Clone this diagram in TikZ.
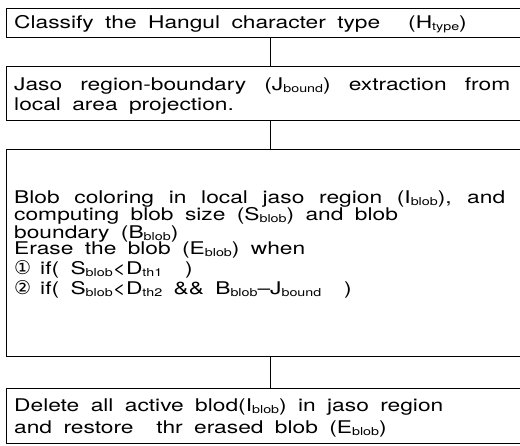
\documentclass[tikz,border=0pt]{standalone}
\usepackage{fontspec}
\setmainfont{TeX Gyre Heros}[FakeStretch=1.3, WordSpace=1.8]
\newfontfamily\circfont{DejaVu Sans}
\newcommand{\sbs}[1]{\raisebox{-0.13em}{\fontsize{11}{11}\selectfont #1}}
\begin{document}
\begin{tikzpicture}[x=1pt,y=-1pt,
  box/.style={draw, line width=1.2pt, anchor=north west, minimum width=528pt, inner sep=0pt},
  txt/.style={anchor=base west, inner sep=0pt, font=\fontsize{17.5}{17.5}\selectfont},
  link/.style={line width=1.3pt}]
\path[use as bounding box] (0,0) rectangle (520,445);
\clip (0,0) rectangle (520,445);
\fill[white] (0,0) rectangle (520,445);
% boxes
\node[box, minimum height=29pt] (b1) at (6,8) {};
\node[box, minimum height=54pt] (b2) at (6,66) {};
\node[box, minimum height=207pt] (b3) at (6,149) {};
\node[box, minimum height=55pt] (b4) at (6,388) {};
% connectors
\draw[link] (b1.south) -- (b2.north);
\draw[link] (b2.south) -- (b3.north);
\draw[link] (b3.south) -- (b4.north);
% box 1
\node[txt] (t1) at (14,28) {Classify the Hangul character type};
\node[txt] (t1b) at (408,28) {(H\sbs{type})};
% box 2
\node[txt] (t2a) at (14,90) {\makebox[496pt][s]{Jaso region-boundary (J\sbs{bound}) extraction from}};
\node[txt] (t2b) at (14,110) {local area projection.};
% box 3
\node[txt] (t3a) at (14,203) {\makebox[491pt][s]{Blob coloring in local jaso region (I\sbs{blob}), and}};
\node[txt] (t3b) at (14,220) {computing blob size (S\sbs{blob}) and blob};
\node[txt] (t3c) at (14,238) {boundary (B\sbs{blob})};
\node[txt] (t3d) at (14,254) {Erase the blob (E\sbs{blob}) when};
\node[txt] (t3e) at (14,274) {\makebox[26pt][l]{\circfont\fontsize{19}{19}\selectfont ①}if( S\sbs{blob}<D\sbs{th1}\ \ )};
\node[txt] (t3f) at (14,294) {\makebox[26pt][l]{\circfont\fontsize{19}{19}\selectfont ②}if( S\sbs{blob}<D\sbs{th2}\ \&\&\ B\sbs{blob}\textendash J\sbs{bound}\ \ )};
% box 4
\node[txt] (t4a) at (14,411) {Delete all active blod(I\sbs{blob}) in jaso region};
\node[txt] (t4b) at (14,433) {and restore\ \ thr erased blob (E\sbs{blob})};
\end{tikzpicture}
\end{document}
